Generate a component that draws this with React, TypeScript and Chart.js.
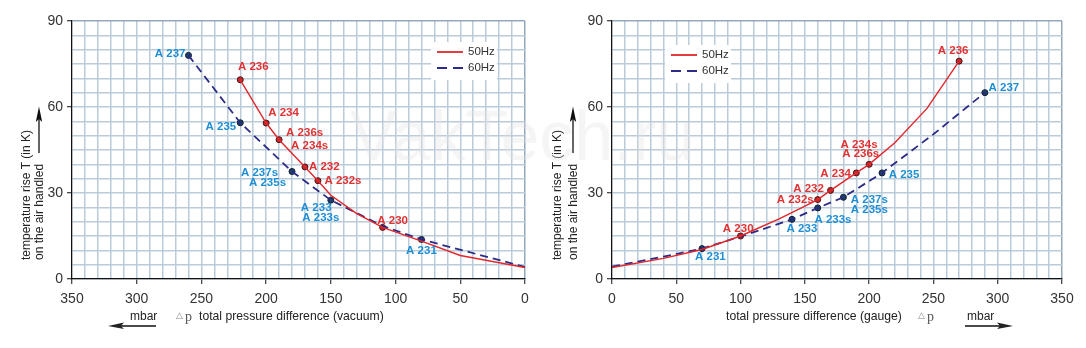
import React, { useEffect, useRef } from 'react';
import { Chart, registerables } from 'chart.js';
Chart.register(...registerables);

const FONT = "'Liberation Sans', Arial, Helvetica, sans-serif";
Chart.defaults.font.family = FONT;

// ---------- data ----------
const X_MAJOR = [0, 50, 100, 150, 200, 250, 300, 350];
const Y_MAJOR = [0, 30, 60, 90];
const SERIES_NAMES = ['50Hz', '60Hz'];

// left: vacuum
const vac50CurveX = [220, 200, 190, 170, 160, 150, 130, 110, 80, 50, 0];
const vac50CurveY = [69.5, 54.4, 48.6, 39.1, 34.3, 29.2, 22.8, 18.0, 13.2, 8.2, 4.0];
const vac60CurveX = [260, 220, 180, 150, 110, 80, 0];
const vac60CurveY = [78.0, 54.5, 37.5, 27.5, 18.5, 13.8, 4.2];
const vac50MarkX = [220, 200, 190, 170, 160, 110];
const vac50MarkY = [69.5, 54.4, 48.6, 39.1, 34.3, 18.0];
const vac50Names = [['A 236'], ['A 234'], ['A 236s', 'A 234s'], ['A 232'], ['A 232s'], ['A 230']];
const vac60MarkX = [260, 220, 180, 150, 80];
const vac60MarkY = [78.0, 54.5, 37.5, 27.5, 13.8];
const vac60Names = [['A 237'], ['A 235'], ['A 237s', 'A 235s'], ['A 233', 'A 233s'], ['A 231']];

// right: gauge
const gau50CurveX = [0, 40, 70, 100, 130, 154, 160, 170, 190, 200, 220, 245, 270];
const gau50CurveY = [4.0, 7.2, 10.3, 15.0, 21.0, 26.3, 27.7, 30.9, 37.0, 40.0, 47.5, 59.5, 76.0];
const gau60CurveX = [0, 40, 70, 100, 140, 160, 180, 210, 250, 290];
const gau60CurveY = [4.3, 7.8, 10.6, 14.8, 20.8, 24.8, 28.5, 37.0, 50.5, 65.0];
const gau50MarkX = [100, 160, 170, 190, 200, 270];
const gau50MarkY = [15.0, 27.7, 30.9, 37.0, 40.0, 76.0];
const gau50Names = [['A 230'], ['A 232s'], ['A 232'], ['A 234'], ['A 234s', 'A 236s'], ['A 236']];
const gau60MarkX = [70, 140, 160, 180, 210, 290];
const gau60MarkY = [10.6, 20.8, 24.8, 28.5, 37.0, 65.0];
const gau60Names = [['A 231'], ['A 233'], ['A 233s'], ['A 237s', 'A 235s'], ['A 235'], ['A 237']];

// ---------- label layout (pixel offsets from marker) ----------
type Pos = [number, number, CanvasTextAlign];
const vac50Pos: Pos[][] = [
  [[13, -13, 'center']],
  [[2, -10, 'left']],
  [[7, -6.5, 'left'], [12, 6.5, 'left']],
  [[4, -0.5, 'left']],
  [[6.5, 0, 'left']],
  [[10, -7, 'center']],
];
const vac60Pos: Pos[][] = [
  [[-3, -1.5, 'right']],
  [[-4, 4.5, 'right']],
  [[-14, 1, 'right'], [-6, 11, 'right']],
  [[-30, 7.3, 'left'], [-28.6, 17.3, 'left']],
  [[0, 11, 'center']],
];
const gau50Pos: Pos[][] = [
  [[-17.7, -7, 'left']],
  [[-4, 0, 'right']],
  [[-6.7, -1.7, 'right']],
  [[-5.3, 0.6, 'right']],
  [[-28.7, -20, 'left'], [-27, -10.7, 'left']],
  [[-6, -10, 'center']],
];
const gau60Pos: Pos[][] = [
  [[-7, 8.5, 'left']],
  [[-5.4, 9.3, 'left']],
  [[-3.3, 11.6, 'left']],
  [[7.4, 2.3, 'left'], [7.4, 12.3, 'left']],
  [[6.7, 1.6, 'left']],
  [[3.7, -5, 'left']],
];

const RED = '#e2262b';
const NAVY = '#2b2b86';
const RED_LABEL = '#e23232';
const BLUE_LABEL = '#1e8fd6';
const GRID = '#bccbda';
const GRID_EDGE = '#93a8bd';

const pts = (xs: number[], ys: number[]) => xs.map((x, i) => ({ x, y: ys[i] }));

type Side = {
  reverse: boolean;
  yWidth: number;
  padRight: number;
  c50x: number[]; c50y: number[]; c60x: number[]; c60y: number[];
  m50x: number[]; m50y: number[]; m60x: number[]; m60y: number[];
  n50: string[][]; n60: string[][]; p50: Pos[][]; p60: Pos[][];
  legend: { x: number; y: number; bx: number; by: number; bw: number; bh: number };
  yTitleX: [number, number];
  xTitle: 'vacuum' | 'gauge';
};

function makeChart(canvas: HTMLCanvasElement, s: Side) {
  const edgeX = s.reverse ? 0 : 350;
  const overlay = {
    id: 'overlay',
    afterDatasetsDraw(chart: any) {
      const ctx = chart.ctx as CanvasRenderingContext2D;
      ctx.save();
      ctx.font = `bold 11.5px ${FONT}`;
      ctx.textBaseline = 'middle';
      const drawLabels = (dsIndex: number, names: string[][], pos: Pos[][], color: string) => {
        const meta = chart.getDatasetMeta(dsIndex);
        ctx.fillStyle = color;
        meta.data.forEach((el: any, j: number) => {
          names[j].forEach((t, k) => {
            const [dx, dy, al] = pos[j][k];
            ctx.textAlign = al;
            ctx.fillText(t, el.x + dx, el.y + dy);
          });
        });
      };
      drawLabels(2, s.n50, s.p50, RED_LABEL);
      drawLabels(3, s.n60, s.p60, BLUE_LABEL);

      const L = s.legend;
      ctx.fillStyle = '#ffffff';
      ctx.fillRect(L.bx, L.by, L.bw, L.bh);
      ctx.lineWidth = 1.8;
      ctx.strokeStyle = RED;
      ctx.beginPath(); ctx.moveTo(L.x, L.y); ctx.lineTo(L.x + 26, L.y); ctx.stroke();
      ctx.strokeStyle = NAVY;
      ctx.setLineDash([10, 6]);
      ctx.beginPath(); ctx.moveTo(L.x, L.y + 16); ctx.lineTo(L.x + 26, L.y + 16); ctx.stroke();
      ctx.setLineDash([]);
      ctx.font = `11.5px ${FONT}`;
      ctx.fillStyle = '#333';
      ctx.textAlign = 'left';
      ctx.fillText(SERIES_NAMES[0], L.x + 31, L.y);
      ctx.fillText(SERIES_NAMES[1], L.x + 31, L.y + 16);
      ctx.restore();
    },
    afterDraw(chart: any) {
      const ctx = chart.ctx as CanvasRenderingContext2D;
      ctx.save();
      ctx.fillStyle = '#222';
      ctx.font = `12px ${FONT}`;
      ctx.textBaseline = 'middle';
      ctx.textAlign = 'left';
      const lines = ['temperature rise T (in K)', 'on the air handled'];
      lines.forEach((t, i) => {
        ctx.save();
        ctx.translate(s.yTitleX[i], 260);
        ctx.rotate(-Math.PI / 2);
        ctx.fillText(t, 0, 0);
        ctx.restore();
      });
      const ax = s.yTitleX[1] - 1;
      ctx.strokeStyle = '#111';
      ctx.fillStyle = '#111';
      ctx.lineWidth = 1.3;
      ctx.beginPath(); ctx.moveTo(ax, 153); ctx.lineTo(ax, 118); ctx.stroke();
      ctx.beginPath(); ctx.moveTo(ax, 106.5); ctx.lineTo(ax - 3.2, 122); ctx.lineTo(ax, 119); ctx.lineTo(ax + 3.2, 122); ctx.closePath(); ctx.fill();

      const yT = 317;
      if (s.xTitle === 'vacuum') {
        ctx.font = `12.2px ${FONT}`;
        ctx.fillStyle = '#222';
        ctx.fillText('total pressure difference (vacuum)', 199, yT);
        ctx.fillStyle = '#888';
        ctx.font = `9px ${FONT}`;
        ctx.fillText('\u25B3', 176, yT - 1);
        ctx.fillStyle = '#555';
        ctx.font = `14px 'Liberation Serif', 'DejaVu Serif', serif`;
        ctx.fillText('p', 185, yT);
        ctx.font = `12px ${FONT}`;
        ctx.fillStyle = '#222';
        ctx.fillText('mbar', 130, yT);
        ctx.lineWidth = 1.3;
        ctx.beginPath(); ctx.moveTo(156, 326); ctx.lineTo(118, 326); ctx.stroke();
        ctx.beginPath(); ctx.moveTo(108, 326); ctx.lineTo(124, 322.5); ctx.lineTo(121, 326); ctx.lineTo(124, 329); ctx.closePath(); ctx.fill();
      } else {
        ctx.font = `12.2px ${FONT}`;
        ctx.fillStyle = '#222';
        ctx.fillText('total pressure difference (gauge)', 183, yT);
        ctx.fillStyle = '#888';
        ctx.font = `9px ${FONT}`;
        ctx.fillText('\u25B3', 375, yT - 1);
        ctx.fillStyle = '#555';
        ctx.font = `14px 'Liberation Serif', 'DejaVu Serif', serif`;
        ctx.fillText('p', 384, yT);
        ctx.font = `12px ${FONT}`;
        ctx.fillStyle = '#222';
        ctx.fillText('mbar', 424, yT);
        ctx.lineWidth = 1.3;
        ctx.beginPath(); ctx.moveTo(422, 326); ctx.lineTo(460, 326); ctx.stroke();
        ctx.beginPath(); ctx.moveTo(470, 326); ctx.lineTo(454, 322.5); ctx.lineTo(457, 326); ctx.lineTo(454, 329); ctx.closePath(); ctx.fill();
      }
      ctx.restore();
    },
  };

  return new Chart(canvas, {
    type: 'scatter',
    data: {
      datasets: [
        {
          label: SERIES_NAMES[0],
          data: pts(s.c50x, s.c50y),
          showLine: true,
          borderColor: RED,
          borderWidth: 1.4,
          pointRadius: 0,
          tension: 0,
        },
        {
          label: SERIES_NAMES[1],
          data: pts(s.c60x, s.c60y),
          showLine: true,
          borderColor: NAVY,
          borderWidth: 1.8,
          borderDash: [8, 5],
          pointRadius: 0,
          tension: 0,
        },
        {
          label: 'm50',
          data: pts(s.m50x, s.m50y),
          pointRadius: 3,
          pointBackgroundColor: '#c4282c',
          pointBorderColor: '#4a1414',
          pointBorderWidth: 1,
        },
        {
          label: 'm60',
          data: pts(s.m60x, s.m60y),
          pointRadius: 3,
          pointBackgroundColor: '#1f3d6b',
          pointBorderColor: '#101c33',
          pointBorderWidth: 1,
        },
      ],
    },
    options: {
      responsive: false,
      animation: false,
      layout: { padding: { top: 21, right: s.padRight, bottom: 0, left: 0 } },
      plugins: { legend: { display: false }, tooltip: { enabled: false } },
      scales: {
        x: {
          type: 'linear',
          reverse: s.reverse,
          min: 0,
          max: 350,
          afterFit: (sc: any) => { sc.height = 69; },
          ticks: {
            stepSize: 10,
            autoSkip: false,
            maxRotation: 0,
            padding: 7,
            color: '#333',
            font: { size: 14 },
            callback: (v: any) => (X_MAJOR.includes(Number(v)) ? String(v) : ''),
          },
          grid: {
            color: (c: any) => (c.tick && c.tick.value === edgeX ? GRID_EDGE : GRID),
            lineWidth: 1.5,
            tickLength: 5,
            tickColor: (c: any) => (c.tick && X_MAJOR.includes(c.tick.value) ? '#111' : 'rgba(0,0,0,0)'),
            tickWidth: 1,
          },
          border: { color: '#111', width: 1.2 },
        },
        y: {
          type: 'linear',
          min: 0,
          max: 90,
          afterFit: (sc: any) => { sc.width = s.yWidth; },
          ticks: {
            stepSize: 5,
            autoSkip: false,
            padding: 4,
            color: '#333',
            font: { size: 14 },
            callback: (v: any) => (Y_MAJOR.includes(Number(v)) ? String(v) : ''),
          },
          grid: {
            color: (c: any) => (c.tick && c.tick.value === 90 ? GRID_EDGE : GRID),
            lineWidth: 1.5,
            tickLength: 5,
            tickColor: (c: any) => (c.tick && Y_MAJOR.includes(c.tick.value) ? '#111' : 'rgba(0,0,0,0)'),
            tickWidth: 1,
          },
          border: { color: '#111', width: 1.2 },
        },
      },
    },
    plugins: [overlay],
  } as any);
}

const LEFT: Side = {
  reverse: true,
  yWidth: 72,
  padRight: 18,
  c50x: vac50CurveX, c50y: vac50CurveY, c60x: vac60CurveX, c60y: vac60CurveY,
  m50x: vac50MarkX, m50y: vac50MarkY, m60x: vac60MarkX, m60y: vac60MarkY,
  n50: vac50Names, n60: vac60Names, p50: vac50Pos, p60: vac60Pos,
  legend: { x: 437, y: 52, bx: 431, by: 42, bw: 66, bh: 38 },
  yTitleX: [27, 40],
  xTitle: 'vacuum',
};

const RIGHT: Side = {
  reverse: false,
  yWidth: 69,
  padRight: 24,
  c50x: gau50CurveX, c50y: gau50CurveY, c60x: gau60CurveX, c60y: gau60CurveY,
  m50x: gau50MarkX, m50y: gau50MarkY, m60x: gau60MarkX, m60y: gau60MarkY,
  n50: gau50Names, n60: gau60Names, p50: gau50Pos, p60: gau60Pos,
  legend: { x: 128, y: 55, bx: 122, by: 45, bw: 66, bh: 38 },
  yTitleX: [15, 31],
  xTitle: 'gauge',
};

function Panel({ side, left }: { side: Side; left: number }) {
  const ref = useRef<HTMLCanvasElement>(null);
  useEffect(() => {
    if (!ref.current) return;
    const ch = makeChart(ref.current, side);
    return () => ch.destroy();
  }, [side]);
  return (
    <canvas
      ref={ref}
      width={543}
      height={348}
      style={{ position: 'absolute', left, top: 0, width: 543, height: 348 }}
    />
  );
}

export default function App() {
  return (
    <div style={{ position: 'absolute', left: 0, top: 0, width: 1086, height: 348, background: '#fff', overflow: 'hidden' }}>
      <Panel side={LEFT} left={0} />
      <Panel side={RIGHT} left={543} />
      <div
        style={{
          position: 'absolute',
          left: 350,
          top: 101,
          fontFamily: FONT,
          fontSize: 70,
          lineHeight: '70px',
          color: 'rgba(225,225,225,0.35)',
          pointerEvents: 'none',
          whiteSpace: 'nowrap',
        }}
      >
        VakTech.ru
      </div>
    </div>
  );
}
